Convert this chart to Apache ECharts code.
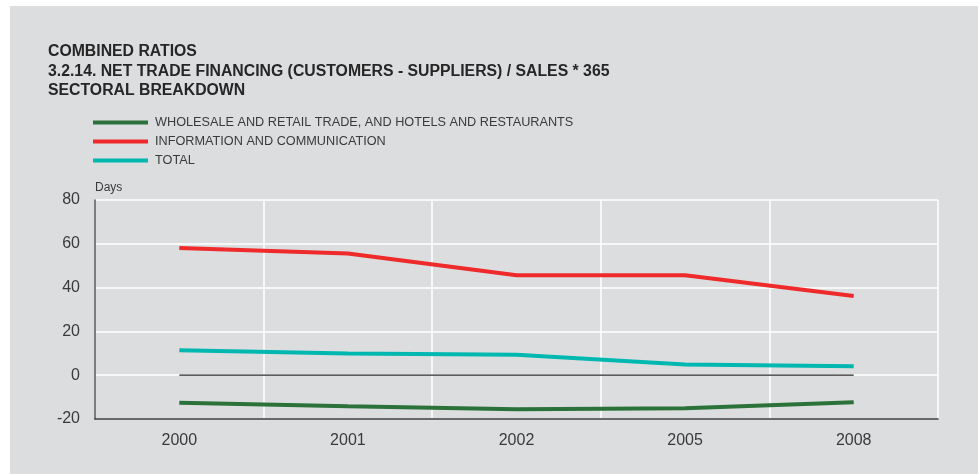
<!DOCTYPE html>
<html>
<head>
<meta charset="utf-8">
<script src="https://cdn.jsdelivr.net/npm/echarts@6/dist/echarts.min.js"></script>
<style>
html,body{margin:0;padding:0;background:#fff;}
#wrap{position:absolute;left:10px;top:6px;width:968px;height:468px;background:#dcdddf;}
#c{position:absolute;left:0;top:0;width:978px;height:474px;}
</style>
</head>
<body>
<div id="wrap"></div>
<div id="c"></div>
<script>
const categories = ['2000', '2001', '2002', '2005', '2008'];
const seriesNames = [
  'WHOLESALE AND RETAIL TRADE, AND HOTELS AND RESTAURANTS',
  'INFORMATION AND COMMUNICATION',
  'TOTAL'
];
const wholesale = [-12.6, -14.2, -15.6, -15.1, -12.4];
const infoComm = [58.1, 55.6, 45.6, 45.6, 36.2];
const total = [11.4, 9.9, 9.3, 4.9, 4.1];
const zeroLine = [0, 0, 0, 0, 0];
const yTicks = [-20, 0, 20, 40, 60, 80];
const colors = ['#2b713a', '#ee2a2a', '#00b8b0'];

const chart = echarts.init(document.getElementById('c'), null, {renderer: 'canvas'});
const font = '"Liberation Sans", Arial, Helvetica, sans-serif';
const legendTops = [116, 135, 154];
chart.setOption({
  backgroundColor: 'transparent',
  textStyle: {fontFamily: font},
  title: {
    text: 'COMBINED RATIOS\n3.2.14. NET TRADE FINANCING (CUSTOMERS - SUPPLIERS) / SALES * 365\nSECTORAL BREAKDOWN',
    left: 48, top: 42,
    padding: 0,
    textStyle: {fontFamily: font, fontSize: 15.8, fontWeight: 'bold', color: '#262626', lineHeight: 19.5}
  },
  legend: seriesNames.map((n, i) => ({
    data: [n],
    left: 93, top: legendTops[i],
    padding: 0,
    icon: 'rect',
    itemWidth: 55, itemHeight: 4,
    itemGap: 6,
    selectedMode: false,
    textStyle: {fontFamily: font, fontSize: 12.7, color: '#3a3a3a', padding: [0, 0, 0, 2]}
  })),
  grid: {left: 95, right: 40, top: 200, bottom: 55, containLabel: false},
  xAxis: {
    type: 'category',
    data: categories,
    boundaryGap: true,
    axisLine: {show: true, onZero: false, lineStyle: {color: '#3a3a3a', width: 1.5}},
    axisTick: {show: false},
    axisLabel: {fontFamily: font, fontSize: 16, color: '#3a3a3a', margin: 14},
    splitLine: {show: true, lineStyle: {color: '#ffffff', width: 1.5}}
  },
  yAxis: {
    type: 'value',
    min: yTicks[0], max: yTicks[yTicks.length - 1], interval: 20,
    name: 'Days',
    nameLocation: 'end',
    nameGap: 6,
    nameTextStyle: {fontFamily: font, fontSize: 12, color: '#3a3a3a', align: 'left'},
    axisLine: {show: true, lineStyle: {color: '#555555', width: 1.5}},
    axisTick: {show: false},
    axisLabel: {fontFamily: font, fontSize: 16, color: '#3a3a3a', margin: 15},
    splitLine: {show: true, lineStyle: {color: '#ffffff', width: 1.5}}
  },
  series: [
    {name: 'zero', type: 'line', data: zeroLine, symbol: 'none', silent: true, z: 1,
     lineStyle: {color: '#2a2a2a', width: 1.3}},
    {name: seriesNames[0], type: 'line', data: wholesale, symbol: 'none', z: 3,
     itemStyle: {color: colors[0]}, lineStyle: {color: colors[0], width: 4}},
    {name: seriesNames[1], type: 'line', data: infoComm, symbol: 'none', z: 3,
     itemStyle: {color: colors[1]}, lineStyle: {color: colors[1], width: 4}},
    {name: seriesNames[2], type: 'line', data: total, symbol: 'none', z: 3,
     itemStyle: {color: colors[2]}, lineStyle: {color: colors[2], width: 4}}
  ],
  animation: false
});
</script>
</body>
</html>
